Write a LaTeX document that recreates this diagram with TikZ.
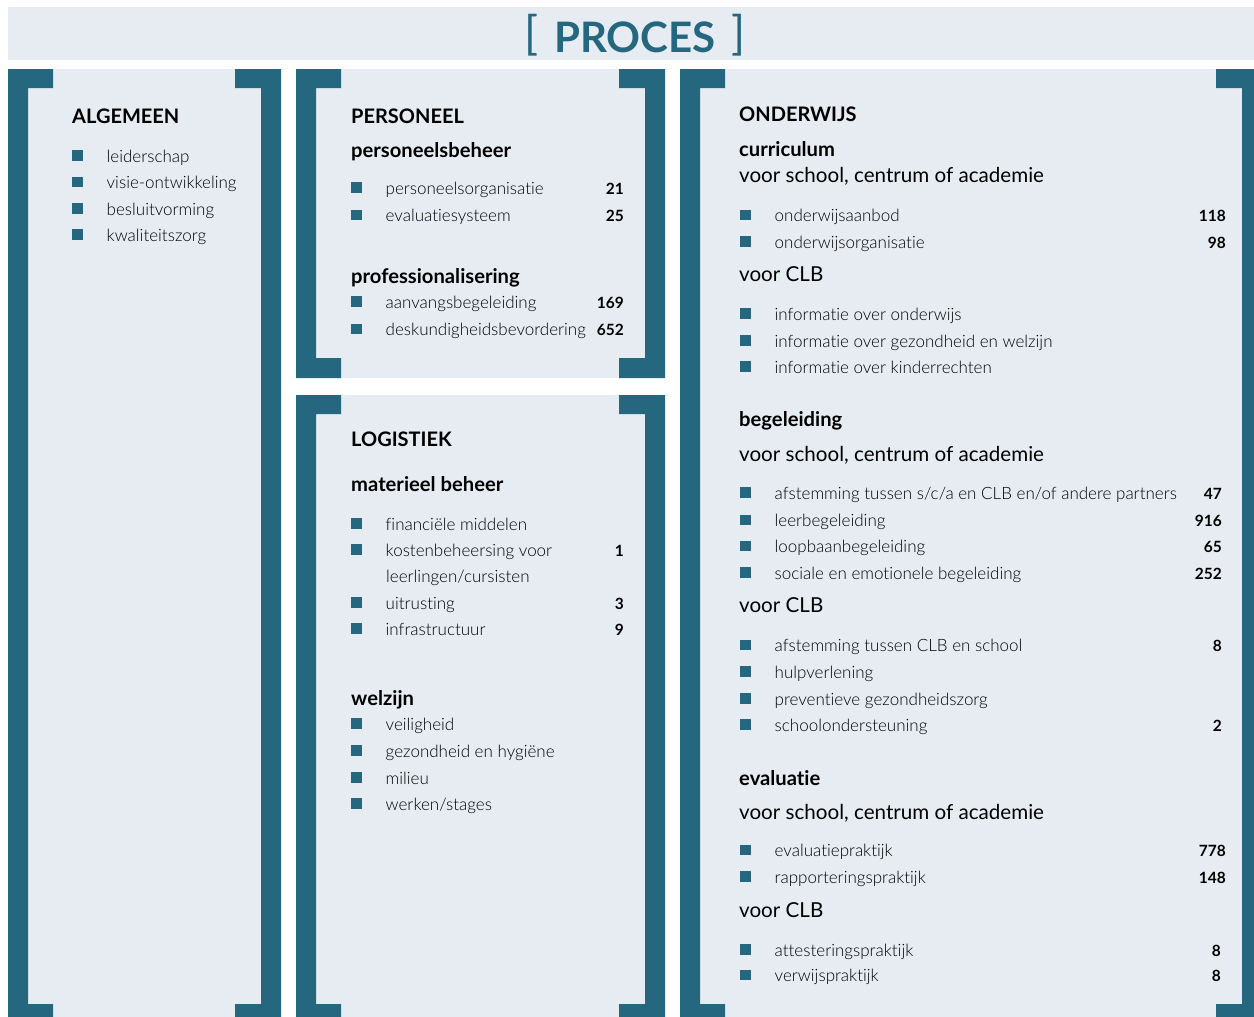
\documentclass[tikz,border=0pt]{standalone}
\usepackage{fontspec}
\setmainfont{Lato}[Ligatures=NoCommon]
\IfFontExistsTF{Lato Light}{\newfontfamily\lightfont{Lato Light}[Ligatures=NoCommon]}{\newfontfamily\lightfont{Lato}[Ligatures=NoCommon]}
\definecolor{procblue}{HTML}{266780}
\definecolor{procbg}{HTML}{E7ECF3}
\newcommand{\pbullet}{{\color{procblue}\rule[1.5pt]{10.5pt}{10.5pt}}\hspace{24pt}}
\newcommand{\procpanel}[4]{%
  \fill[procbg] (#1,#2) rectangle (#3,#4);
  \fill[procblue] (#1,#2) -- (#1+45,#2) -- (#1+45,#2+19) -- (#1+20,#2+19) -- (#1+20,#4-20)
    -- (#1+45,#4-20) -- (#1+45,#4) -- (#1,#4) -- cycle;
  \fill[procblue] (#3,#2) -- (#3-46,#2) -- (#3-46,#2+19) -- (#3-20,#2+19) -- (#3-20,#4-20)
    -- (#3-46,#4-20) -- (#3-46,#4) -- (#3,#4) -- cycle;
}
\begin{document}
\begin{tikzpicture}[x=1pt, y=-1pt,
  title/.style={anchor=base, inner sep=0, text=procblue, font=\bfseries\fontsize{42}{42}\selectfont},
  head/.style={anchor=base west, inner sep=0, font=\bfseries\fontsize{20}{20}\selectfont},
  sub/.style={anchor=base west, inner sep=0, font=\bfseries\fontsize{20.2}{20}\selectfont},
  voor/.style={anchor=base west, inner sep=0, font=\fontsize{20.6}{20}\selectfont},
  item/.style={anchor=base west, inner sep=0, font=\lightfont\fontsize{17}{17}\selectfont},
  num/.style={anchor=base east, inner sep=0, font=\bfseries\fontsize{15.5}{16}\selectfont}]
\useasboundingbox (0,0) rectangle (1254,1017);
\clip (0,0) rectangle (1254,1017);
\fill[white] (0,0) rectangle (1254,1017);
\fill[procbg] (8,7) rectangle (1254,60);
\procpanel{8}{69}{281}{1024}
\procpanel{296}{69}{665}{378}
\procpanel{296}{395}{665}{1024}
\procpanel{680}{69}{1262}{1024}

\node[title] (proces) at (635,52) {{\mdseries\fontsize{46}{46}\selectfont\raisebox{2pt}{[}}\hspace{16pt}PROCES\hspace{16pt}{\mdseries\fontsize{46}{46}\selectfont\raisebox{2pt}{]}}};

\node[head] (algemeen) at (72,123) {ALGEMEEN};
\node[item] (leiderschap) at (72,162) {\pbullet leiderschap};
\node[item] (visie) at (72,188.5) {\pbullet visie-ontwikkeling};
\node[item] (besluit) at (72,215) {\pbullet besluitvorming};
\node[item] (kwaliteit) at (72,241) {\pbullet kwaliteitszorg};

\node[head] (personeel) at (351,123.3) {PERSONEEL};
\node[sub] (persbeheer) at (351,157) {personeelsbeheer};
\node[item] (persorg) at (351,194.3) {\pbullet personeelsorganisatie};
\node[num] (n21) at (624,194.3) {21};
\node[item] (evalsys) at (351,221.7) {\pbullet evaluatiesysteem};
\node[num] (n25) at (624,221.7) {25};
\node[sub] (prof) at (351,283.3) {professionalisering};
\node[item] (aanvang) at (351,308.3) {\pbullet aanvangsbegeleiding};
\node[num] (n169) at (624,308.3) {169};
\node[item] (deskundig) at (351,335.7) {\pbullet deskundigheidsbevordering};
\node[num] (n652) at (624,335.7) {652};

\node[head] (logistiek) at (351,446) {LOGISTIEK};
\node[sub] (materieel) at (351,491) {materieel beheer};
\node[item] (financien) at (351,530) {\pbullet financiële middelen};
\node[item] (kosten) at (351,556) {\pbullet kostenbeheersing voor};
\node[num] (n1) at (624,556) {1};
\node[item] (kosten2) at (386,582.7) {leerlingen/cursisten};
\node[item] (uitrusting) at (351,609.3) {\pbullet uitrusting};
\node[num] (n3) at (624,609.3) {3};
\node[item] (infra) at (351,635) {\pbullet infrastructuur};
\node[num] (n9) at (624,635) {9};
\node[sub] (welzijn) at (351,705) {welzijn};
\node[item] (veilig) at (351,730) {\pbullet veiligheid};
\node[item] (hygiene) at (351,757.3) {\pbullet gezondheid en hygiëne};
\node[item] (milieu) at (351,784) {\pbullet milieu};
\node[item] (stages) at (351,810) {\pbullet werken/stages};

\node[head] (onderwijs) at (739,121.7) {ONDERWIJS};
\node[sub] (curriculum) at (739,156) {curriculum};
\node[voor] (curschool) at (739,182.7) {voor school, centrum of academie};
\node[item] (aanbod) at (740,221.7) {\pbullet onderwijsaanbod};
\node[num] (n118) at (1226,221.7) {118};
\node[item] (ondorg) at (740,248.3) {\pbullet onderwijsorganisatie};
\node[num] (n98) at (1226,248.3) {98};
\node[voor] (curclb) at (739,281.7) {voor CLB};
\node[item] (infoond) at (740,320) {\pbullet informatie over onderwijs};
\node[item] (infogez) at (740,347.3) {\pbullet informatie over gezondheid en welzijn};
\node[item] (infokind) at (740,373.3) {\pbullet informatie over kinderrechten};
\node[sub] (begeleiding) at (739,426.7) {begeleiding};
\node[voor] (begschool) at (739,461) {voor school, centrum of academie};
\node[item] (afst) at (740,499.3) {\pbullet afstemming tussen s/c/a en CLB en/of andere partners};
\node[num] (n47) at (1222,499.3) {47};
\node[item] (leerbeg) at (740,526.7) {\pbullet leerbegeleiding};
\node[num] (n916) at (1222,526.7) {916};
\node[item] (loopbaan) at (740,552.7) {\pbullet loopbaanbegeleiding};
\node[num] (n65) at (1222,552.7) {65};
\node[item] (sociaal) at (740,579.3) {\pbullet sociale en emotionele begeleiding};
\node[num] (n252) at (1222,579.3) {252};
\node[voor] (begclb) at (739,612.7) {voor CLB};
\node[item] (afstclb) at (740,651.7) {\pbullet afstemming tussen CLB en school};
\node[num] (n8a) at (1222,651.7) {8};
\node[item] (hulp) at (740,678.3) {\pbullet hulpverlening};
\node[item] (prev) at (740,705) {\pbullet preventieve gezondheidszorg};
\node[item] (schoolond) at (740,731) {\pbullet schoolondersteuning};
\node[num] (n2) at (1222,731) {2};
\node[sub] (evaluatie) at (739,785) {evaluatie};
\node[voor] (evalschool) at (739,819.3) {voor school, centrum of academie};
\node[item] (evalprak) at (740,856.7) {\pbullet evaluatiepraktijk};
\node[num] (n778) at (1226,856.7) {778};
\node[item] (rapport) at (740,883.3) {\pbullet rapporteringspraktijk};
\node[num] (n148) at (1226,883.3) {148};
\node[voor] (evalclb) at (739,917.7) {voor CLB};
\node[item] (attest) at (740,956) {\pbullet attesteringspraktijk};
\node[num] (n8b) at (1221,956) {8};
\node[item] (verwijs) at (740,981.7) {\pbullet verwijspraktijk};
\node[num] (n8c) at (1221,981.7) {8};
\end{tikzpicture}
\end{document}
